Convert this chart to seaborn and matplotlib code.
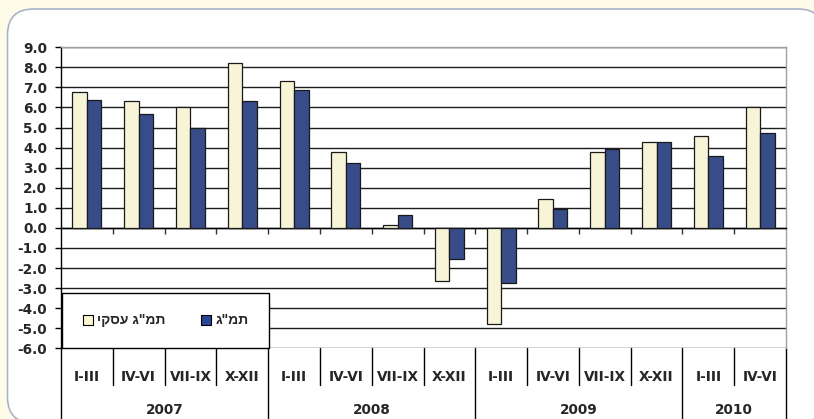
import numpy as np
import pandas as pd
import matplotlib
matplotlib.use("Agg")
import matplotlib.pyplot as plt
import matplotlib.transforms as mtransforms
from matplotlib.patches import Patch, FancyBboxPatch
import seaborn as sns

# ---------------- data ----------------
years = ["2007", "2008", "2009", "2010"]
year_of_period = ["2007"] * 4 + ["2008"] * 4 + ["2009"] * 4 + ["2010"] * 2
quarters = ["I-III", "IV-VI", "VII-IX", "X-XII",
            "I-III", "IV-VI", "VII-IX", "X-XII",
            "I-III", "IV-VI", "VII-IX", "X-XII",
            "I-III", "IV-VI"]
business_gdp = [6.75, 6.33, 6.0, 8.23, 7.3, 3.8, 0.15, -2.63, -4.77, 1.45, 3.78, 4.28, 4.58, 6.03]
gdp = [6.37, 5.7, 4.98, 6.32, 6.87, 3.25, 0.62, -1.55, -2.77, 0.95, 3.92, 4.28, 3.58, 4.73]
series_names = ['תמ"ג עסקי', 'תמ"ג']
y_ticks = [9, 8, 7, 6, 5, 4, 3, 2, 1, 0, -1, -2, -3, -4, -5, -6]

YELLOW = "#FCF8D2"
BLUE = "#2B4596"
CREAM = "#FEFCE8"

period_ids = [f"{y} {q}" for y, q in zip(year_of_period, quarters)]
df = pd.DataFrame({
    "period": period_ids * 2,
    "series": [series_names[0]] * len(period_ids) + [series_names[1]] * len(period_ids),
    "value": business_gdp + gdp,
})

FONT = ["DejaVu Sans", "Liberation Sans"]
LEGEND_FONT = ["Liberation Sans", "DejaVu Sans"]
sns.set_style("white")
plt.rcParams["font.family"] = FONT
plt.rcParams["font.weight"] = "bold"
FS = 9.8


def visual(s):
    # matplotlib lays text out left-to-right: give Hebrew in visual (RTL) order
    return s[::-1]


fig = plt.figure(figsize=(8.14, 4.19), dpi=100, facecolor=CREAM)
panel = FancyBboxPatch((0.075, -0.04), 8.165, 4.14,
                       boxstyle="round,pad=0,rounding_size=0.26",
                       transform=fig.dpi_scale_trans,
                       facecolor="white", edgecolor="#A8B3C6", linewidth=1.2,
                       zorder=-10)
fig.add_artist(panel)

ax = fig.add_axes([61 / 814, 1 - 348.3 / 419, 725 / 814, 301 / 419])
ax.set_facecolor("white")

sns.barplot(data=df, x="period", y="value", hue="series", order=period_ids,
            hue_order=series_names, palette=[YELLOW, BLUE], width=0.56,
            edgecolor="#1a1a1a", linewidth=0.9, legend=False, ax=ax, zorder=3)

ax.set_xlim(-0.5, len(period_ids) - 0.5)
ax.set_ylim(-6, 9)
ax.set_yticks(y_ticks)
ax.set_yticklabels([f"{v:.1f}" for v in y_ticks], fontsize=FS, fontweight="bold")
ax.yaxis.grid(True, color="#1e1e1e", linewidth=1.0)
ax.set_axisbelow(True)
ax.tick_params(axis="y", direction="out", length=4.5, width=1, color="black", pad=5.5, left=True)

ax.set_xticks(np.arange(0.5, len(period_ids) - 1, 1))
ax.set_xticklabels([])
ax.tick_params(axis="x", direction="out", length=4, width=1, color="#333333", bottom=True)
ax.set_xlabel("")
ax.set_ylabel("")

ax.spines["bottom"].set_position(("data", 0))
ax.spines["bottom"].set_color("black")
ax.spines["bottom"].set_linewidth(1.0)
ax.spines["left"].set_color("black")
ax.spines["left"].set_linewidth(1.0)
for s in ("top", "right"):
    ax.spines[s].set_visible(True)
    ax.spines[s].set_color("#A0A0A0")
    ax.spines[s].set_linewidth(1.0)

# ------------- category axis (two-level) -------------
tr = mtransforms.blended_transform_factory(ax.transData, ax.transAxes)
n = len(period_ids)
y_q_end = -0.122
y_bottom = -0.25
for i in range(n - 1):
    b = i + 0.5
    long_line = year_of_period[i] != year_of_period[i + 1]
    ax.plot([b, b], [0, y_bottom if long_line else y_q_end], transform=tr,
            color="black", linewidth=1.0, clip_on=False)
for b in (-0.5, n - 0.5):
    ax.plot([b, b], [0, y_bottom], transform=tr, color="black", linewidth=1.0, clip_on=False)

for i, q in enumerate(quarters):
    ax.text(i, -0.094, q, transform=tr, ha="center", va="center",
            fontsize=FS, fontweight="bold")
for y in years:
    idx = [i for i, yy in enumerate(year_of_period) if yy == y]
    ax.text(np.mean(idx), -0.205, y, transform=tr, ha="center", va="center",
            fontsize=FS, fontweight="bold")

# ------------- legend -------------
handles = [Patch(facecolor=YELLOW, edgecolor="black", linewidth=0.8),
           Patch(facecolor=BLUE, edgecolor="black", linewidth=0.8)]
leg = ax.legend(handles, [visual(s) for s in series_names], loc="lower left",
                bbox_to_anchor=(0.0014, 0.0, 0.286, 0.197), mode="expand", ncol=2,
                frameon=True, fancybox=False, framealpha=1, edgecolor="black",
                borderpad=1.5, handlelength=0.75, handleheight=0.75,
                handletextpad=0.3, borderaxespad=0,
                prop={"family": LEGEND_FONT, "weight": "bold", "size": 10})
leg.get_frame().set_linewidth(1.0)
leg.set_zorder(10)

fig.savefig("out.png", dpi=100, facecolor=CREAM)
